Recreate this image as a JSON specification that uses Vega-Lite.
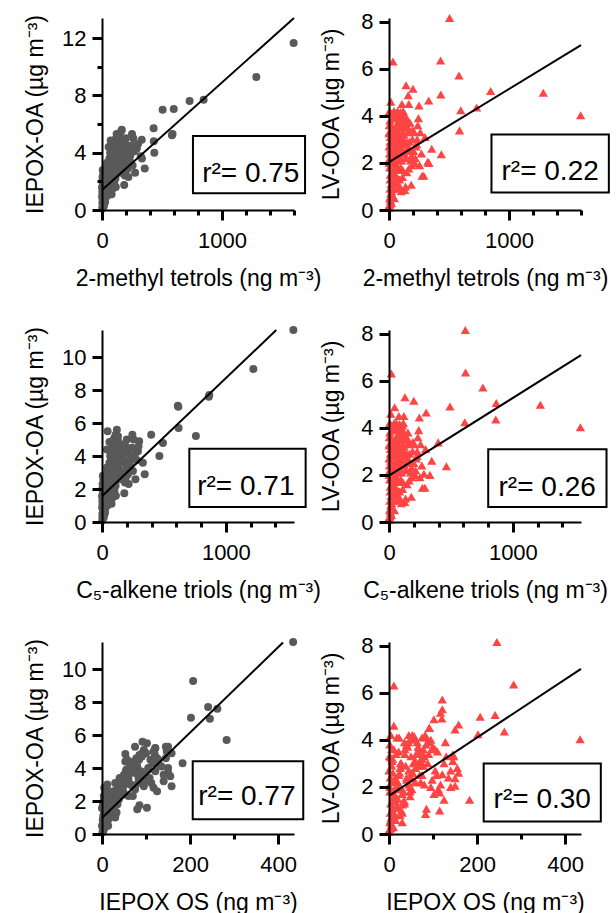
{
  "$schema": "https://vega.github.io/schema/vega-lite/v6.json",
  "padding": {"left": 24, "top": 10, "right": 0, "bottom": 0},
  "background": "white",
  "datasets": {
    "samples": [
      {"tetrol":1597,"triol":1545,"os":434,"iepox_oa":11.65,"lv_ooa":4.02},
      {"tetrol":1286,"triol":1222,"os":207,"iepox_oa":9.28,"lv_ooa":4.98},
      {"tetrol":847,"triol":866,"os":241,"iepox_oa":7.7,"lv_ooa":5.05},
      {"tetrol":730,"triol":862,"os":262,"iepox_oa":7.6,"lv_ooa":4.35},
      {"tetrol":505,"triol":616,"os":245,"iepox_oa":7.0,"lv_ooa":8.15},
      {"tetrol":598,"triol":612,"os":202,"iepox_oa":7.05,"lv_ooa":4.23},
      {"tetrol":583,"triol":758,"os":121,"iepox_oa":5.22,"lv_ooa":5.71},
      {"tetrol":430,"triol":618,"os":283,"iepox_oa":5.7,"lv_ooa":6.35},
      {"tetrol":432,"triol":492,"os":120,"iepox_oa":4.8,"lv_ooa":4.9},
      {"tetrol":436,"triol":463,"os":150,"iepox_oa":4.0,"lv_ooa":2.37},
      {"tetrol":588,"triol":397,"os":145,"iepox_oa":5.3,"lv_ooa":3.38},
      {"tetrol":33,"triol":19,"os":11,"iepox_oa":2.5,"lv_ooa":6.3},
      {"tetrol":2,"triol":2,"os":1,"iepox_oa":0.1,"lv_ooa":0.2},
      {"tetrol":5,"triol":4,"os":2,"iepox_oa":0.3,"lv_ooa":0.5},
      {"tetrol":8,"triol":7,"os":3,"iepox_oa":0.2,"lv_ooa":0.9},
      {"tetrol":3,"triol":3,"os":0,"iepox_oa":0.5,"lv_ooa":0.1},
      {"tetrol":10,"triol":9,"os":4,"iepox_oa":0.6,"lv_ooa":1.3},
      {"tetrol":12,"triol":12,"os":6,"iepox_oa":0.4,"lv_ooa":0.4},
      {"tetrol":6,"triol":6,"os":2,"iepox_oa":0.8,"lv_ooa":1.8},
      {"tetrol":15,"triol":14,"os":5,"iepox_oa":0.9,"lv_ooa":0.7},
      {"tetrol":4,"triol":4,"os":3,"iepox_oa":1.1,"lv_ooa":2.4},
      {"tetrol":18,"triol":17,"os":8,"iepox_oa":0.7,"lv_ooa":1.1},
      {"tetrol":9,"triol":10,"os":6,"iepox_oa":1.3,"lv_ooa":2.9},
      {"tetrol":2,"triol":3,"os":1,"iepox_oa":1.6,"lv_ooa":3.3},
      {"tetrol":20,"triol":19,"os":10,"iepox_oa":1.0,"lv_ooa":0.3},
      {"tetrol":14,"triol":15,"os":9,"iepox_oa":1.5,"lv_ooa":2.6},
      {"tetrol":7,"triol":6,"os":2,"iepox_oa":1.9,"lv_ooa":3.8},
      {"tetrol":25,"triol":24,"os":12,"iepox_oa":1.2,"lv_ooa":1.6},
      {"tetrol":4,"triol":5,"os":4,"iepox_oa":2.3,"lv_ooa":4.2},
      {"tetrol":11,"triol":11,"os":7,"iepox_oa":2.6,"lv_ooa":3.1},
      {"tetrol":22,"triol":21,"os":14,"iepox_oa":0.5,"lv_ooa":0.8},
      {"tetrol":1,"triol":1,"os":0,"iepox_oa":1.57,"lv_ooa":2.7},
      {"tetrol":6,"triol":7,"os":5,"iepox_oa":2.8,"lv_ooa":2.2},
      {"tetrol":30,"triol":28,"os":15,"iepox_oa":0.9,"lv_ooa":0.6},
      {"tetrol":13,"triol":12,"os":18,"iepox_oa":2.0,"lv_ooa":4.1},
      {"tetrol":17,"triol":16,"os":11,"iepox_oa":2.7,"lv_ooa":3.6},
      {"tetrol":28,"triol":27,"os":20,"iepox_oa":1.8,"lv_ooa":2.0},
      {"tetrol":35,"triol":33,"os":18,"iepox_oa":1.4,"lv_ooa":1.2},
      {"tetrol":40,"triol":38,"os":25,"iepox_oa":2.2,"lv_ooa":2.8},
      {"tetrol":45,"triol":44,"os":30,"iepox_oa":1.0,"lv_ooa":0.5},
      {"tetrol":50,"triol":48,"os":22,"iepox_oa":2.5,"lv_ooa":3.5},
      {"tetrol":38,"triol":40,"os":35,"iepox_oa":3.0,"lv_ooa":3.9},
      {"tetrol":55,"triol":53,"os":28,"iepox_oa":1.7,"lv_ooa":1.9},
      {"tetrol":60,"triol":57,"os":40,"iepox_oa":2.9,"lv_ooa":2.4},
      {"tetrol":65,"triol":62,"os":33,"iepox_oa":1.3,"lv_ooa":1.4},
      {"tetrol":42,"triol":41,"os":45,"iepox_oa":3.3,"lv_ooa":4.2},
      {"tetrol":70,"triol":68,"os":38,"iepox_oa":2.1,"lv_ooa":2.9},
      {"tetrol":75,"triol":73,"os":50,"iepox_oa":3.5,"lv_ooa":3.3},
      {"tetrol":80,"triol":77,"os":30,"iepox_oa":1.1,"lv_ooa":0.9},
      {"tetrol":58,"triol":55,"os":24,"iepox_oa":2.4,"lv_ooa":2.6},
      {"tetrol":48,"triol":47,"os":12,"iepox_oa":1.9,"lv_ooa":1.7},
      {"tetrol":85,"triol":82,"os":55,"iepox_oa":3.8,"lv_ooa":4.1},
      {"tetrol":33,"triol":31,"os":26,"iepox_oa":2.6,"lv_ooa":3.0},
      {"tetrol":62,"triol":60,"os":58,"iepox_oa":3.6,"lv_ooa":2.2},
      {"tetrol":72,"triol":70,"os":42,"iepox_oa":2.7,"lv_ooa":3.7},
      {"tetrol":88,"triol":85,"os":35,"iepox_oa":1.8,"lv_ooa":1.3},
      {"tetrol":52,"triol":51,"os":48,"iepox_oa":3.2,"lv_ooa":2.0},
      {"tetrol":68,"triol":66,"os":62,"iepox_oa":4.0,"lv_ooa":3.4},
      {"tetrol":45,"triol":46,"os":20,"iepox_oa":2.0,"lv_ooa":1.5},
      {"tetrol":78,"triol":76,"os":75,"iepox_oa":2.8,"lv_ooa":2.5},
      {"tetrol":90,"triol":88,"os":28,"iepox_oa":1.5,"lv_ooa":1.0},
      {"tetrol":55,"triol":40,"os":53,"iepox_oa":4.4,"lv_ooa":4.0},
      {"tetrol":82,"triol":80,"os":45,"iepox_oa":3.1,"lv_ooa":2.7},
      {"tetrol":36,"triol":35,"os":10,"iepox_oa":1.6,"lv_ooa":0.9},
      {"tetrol":64,"triol":63,"os":70,"iepox_oa":2.3,"lv_ooa":3.1},
      {"tetrol":95,"triol":92,"os":40,"iepox_oa":3.4,"lv_ooa":3.8},
      {"tetrol":58,"triol":56,"os":12,"iepox_oa":3.0,"lv_ooa":2.3},
      {"tetrol":40,"triol":39,"os":8,"iepox_oa":2.5,"lv_ooa":3.2},
      {"tetrol":28,"triol":26,"os":33,"iepox_oa":2.3,"lv_ooa":1.8},
      {"tetrol":86,"triol":84,"os":80,"iepox_oa":1.5,"lv_ooa":2.1},
      {"tetrol":72,"triol":60,"os":53,"iepox_oa":4.85,"lv_ooa":4.2},
      {"tetrol":100,"triol":97,"os":55,"iepox_oa":3.9,"lv_ooa":3.0},
      {"tetrol":110,"triol":95,"os":68,"iepox_oa":4.3,"lv_ooa":3.6},
      {"tetrol":105,"triol":103,"os":45,"iepox_oa":2.6,"lv_ooa":2.1},
      {"tetrol":120,"triol":90,"os":85,"iepox_oa":4.8,"lv_ooa":4.1},
      {"tetrol":130,"triol":126,"os":60,"iepox_oa":3.3,"lv_ooa":2.8},
      {"tetrol":115,"triol":112,"os":102,"iepox_oa":1.6,"lv_ooa":1.7},
      {"tetrol":140,"triol":105,"os":90,"iepox_oa":4.7,"lv_ooa":3.9},
      {"tetrol":125,"triol":122,"os":75,"iepox_oa":3.7,"lv_ooa":3.2},
      {"tetrol":150,"triol":146,"os":70,"iepox_oa":2.9,"lv_ooa":2.5},
      {"tetrol":135,"triol":100,"os":95,"iepox_oa":5.1,"lv_ooa":4.0},
      {"tetrol":160,"triol":45,"os":102,"iepox_oa":5.5,"lv_ooa":4.87},
      {"tetrol":165,"triol":120,"os":92,"iepox_oa":5.6,"lv_ooa":4.5},
      {"tetrol":145,"triol":130,"os":110,"iepox_oa":4.5,"lv_ooa":3.5},
      {"tetrol":170,"triol":166,"os":65,"iepox_oa":3.0,"lv_ooa":2.9},
      {"tetrol":155,"triol":150,"os":80,"iepox_oa":4.1,"lv_ooa":3.3},
      {"tetrol":180,"triol":175,"os":117,"iepox_oa":2.8,"lv_ooa":2.1},
      {"tetrol":175,"triol":130,"os":100,"iepox_oa":4.9,"lv_ooa":3.7},
      {"tetrol":190,"triol":185,"os":52,"iepox_oa":2.4,"lv_ooa":1.9},
      {"tetrol":185,"triol":180,"os":85,"iepox_oa":1.75,"lv_ooa":1.07},
      {"tetrol":142,"triol":129,"os":121,"iepox_oa":5.2,"lv_ooa":5.3},
      {"tetrol":200,"triol":200,"os":117,"iepox_oa":5.0,"lv_ooa":5.15},
      {"tetrol":112,"triol":110,"os":35,"iepox_oa":2.2,"lv_ooa":1.4},
      {"tetrol":128,"triol":125,"os":50,"iepox_oa":3.6,"lv_ooa":2.4},
      {"tetrol":98,"triol":96,"os":78,"iepox_oa":4.2,"lv_ooa":3.6},
      {"tetrol":158,"triol":152,"os":105,"iepox_oa":3.9,"lv_ooa":2.7},
      {"tetrol":118,"triol":116,"os":82,"iepox_oa":3.1,"lv_ooa":4.2},
      {"tetrol":195,"triol":190,"os":125,"iepox_oa":4.6,"lv_ooa":3.0},
      {"tetrol":102,"triol":100,"os":25,"iepox_oa":1.9,"lv_ooa":0.8},
      {"tetrol":148,"triol":145,"os":48,"iepox_oa":2.6,"lv_ooa":1.6},
      {"tetrol":138,"triol":134,"os":115,"iepox_oa":4.3,"lv_ooa":1.0},
      {"tetrol":108,"triol":80,"os":91,"iepox_oa":4.9,"lv_ooa":4.5},
      {"tetrol":96,"triol":85,"os":57,"iepox_oa":4.5,"lv_ooa":4.16},
      {"tetrol":122,"triol":110,"os":75,"iepox_oa":5.3,"lv_ooa":4.1},
      {"tetrol":132,"triol":128,"os":83,"iepox_oa":3.4,"lv_ooa":0.85},
      {"tetrol":178,"triol":172,"os":121,"iepox_oa":3.8,"lv_ooa":2.54},
      {"tetrol":165,"triol":162,"os":115,"iepox_oa":4.4,"lv_ooa":1.76},
      {"tetrol":188,"triol":182,"os":98,"iepox_oa":3.6,"lv_ooa":2.3},
      {"tetrol":210,"triol":205,"os":130,"iepox_oa":4.2,"lv_ooa":3.3},
      {"tetrol":225,"triol":220,"os":140,"iepox_oa":3.2,"lv_ooa":2.7},
      {"tetrol":240,"triol":233,"os":105,"iepox_oa":4.0,"lv_ooa":3.6},
      {"tetrol":230,"triol":226,"os":155,"iepox_oa":3.5,"lv_ooa":2.8},
      {"tetrol":261,"triol":255,"os":147,"iepox_oa":5.0,"lv_ooa":3.3},
      {"tetrol":276,"triol":270,"os":125,"iepox_oa":2.6,"lv_ooa":1.45},
      {"tetrol":250,"triol":245,"os":150,"iepox_oa":5.3,"lv_ooa":4.44},
      {"tetrol":215,"triol":210,"os":95,"iepox_oa":2.9,"lv_ooa":2.0},
      {"tetrol":290,"triol":290,"os":183,"iepox_oa":4.3,"lv_ooa":1.45},
      {"tetrol":323,"triol":282,"os":150,"iepox_oa":3.75,"lv_ooa":2.05},
      {"tetrol":331,"triol":300,"os":158,"iepox_oa":4.9,"lv_ooa":4.65},
      {"tetrol":356,"triol":345,"os":158,"iepox_oa":2.9,"lv_ooa":2.6},
      {"tetrol":333,"triol":330,"os":140,"iepox_oa":3.6,"lv_ooa":2.0},
      {"tetrol":235,"triol":228,"os":88,"iepox_oa":3.8,"lv_ooa":3.0},
      {"tetrol":220,"triol":215,"os":60,"iepox_oa":2.3,"lv_ooa":2.2},
      {"tetrol":255,"triol":250,"os":112,"iepox_oa":3.1,"lv_ooa":1.9},
      {"tetrol":15,"triol":14,"os":11,"iepox_oa":2.1,"lv_ooa":4.6},
      {"tetrol":20,"triol":18,"os":23,"iepox_oa":2.4,"lv_ooa":4.1},
      {"tetrol":3,"triol":2,"os":4,"iepox_oa":2.0,"lv_ooa":3.25},
      {"tetrol":50,"triol":55,"os":30,"iepox_oa":3.1,"lv_ooa":1.25},
      {"tetrol":24,"triol":23,"os":16,"iepox_oa":1.5,"lv_ooa":2.3},
      {"tetrol":32,"triol":30,"os":22,"iepox_oa":2.0,"lv_ooa":2.5},
      {"tetrol":44,"triol":42,"os":28,"iepox_oa":2.4,"lv_ooa":3.0},
      {"tetrol":56,"triol":54,"os":36,"iepox_oa":2.8,"lv_ooa":3.4},
      {"tetrol":66,"triol":64,"os":44,"iepox_oa":3.2,"lv_ooa":3.9},
      {"tetrol":76,"triol":74,"os":52,"iepox_oa":3.6,"lv_ooa":2.6},
      {"tetrol":84,"triol":81,"os":60,"iepox_oa":3.9,"lv_ooa":3.1},
      {"tetrol":92,"triol":90,"os":66,"iepox_oa":4.1,"lv_ooa":3.5},
      {"tetrol":104,"triol":100,"os":72,"iepox_oa":4.4,"lv_ooa":2.9},
      {"tetrol":114,"triol":110,"os":78,"iepox_oa":4.6,"lv_ooa":3.3},
      {"tetrol":19,"triol":18,"os":12,"iepox_oa":1.2,"lv_ooa":1.9},
      {"tetrol":27,"triol":26,"os":16,"iepox_oa":1.6,"lv_ooa":3.4},
      {"tetrol":37,"triol":36,"os":14,"iepox_oa":1.1,"lv_ooa":1.4},
      {"tetrol":47,"triol":45,"os":20,"iepox_oa":1.4,"lv_ooa":2.2},
      {"tetrol":57,"triol":55,"os":26,"iepox_oa":1.8,"lv_ooa":2.8},
      {"tetrol":67,"triol":65,"os":30,"iepox_oa":2.0,"lv_ooa":1.7},
      {"tetrol":77,"triol":75,"os":36,"iepox_oa":2.3,"lv_ooa":3.6},
      {"tetrol":87,"triol":85,"os":40,"iepox_oa":2.5,"lv_ooa":2.3},
      {"tetrol":97,"triol":95,"os":48,"iepox_oa":2.9,"lv_ooa":1.8},
      {"tetrol":107,"triol":105,"os":54,"iepox_oa":3.2,"lv_ooa":2.6},
      {"tetrol":117,"triol":115,"os":60,"iepox_oa":3.5,"lv_ooa":3.0},
      {"tetrol":127,"triol":124,"os":66,"iepox_oa":3.8,"lv_ooa":3.7},
      {"tetrol":137,"triol":133,"os":72,"iepox_oa":4.0,"lv_ooa":2.2},
      {"tetrol":147,"triol":143,"os":78,"iepox_oa":4.2,"lv_ooa":2.9},
      {"tetrol":157,"triol":153,"os":84,"iepox_oa":4.5,"lv_ooa":3.8},
      {"tetrol":167,"triol":163,"os":90,"iepox_oa":4.7,"lv_ooa":3.4},
      {"tetrol":11,"triol":10,"os":9,"iepox_oa":0.9,"lv_ooa":1.5},
      {"tetrol":16,"triol":15,"os":4,"iepox_oa":0.3,"lv_ooa":0.6},
      {"tetrol":26,"triol":25,"os":7,"iepox_oa":0.6,"lv_ooa":1.0},
      {"tetrol":9,"triol":8,"os":5,"iepox_oa":0.35,"lv_ooa":0.25},
      {"tetrol":1,"triol":1,"os":2,"iepox_oa":0.9,"lv_ooa":2.0},
      {"tetrol":3,"triol":3,"os":6,"iepox_oa":1.3,"lv_ooa":3.6},
      {"tetrol":62,"triol":61,"os":18,"iepox_oa":2.2,"lv_ooa":1.1},
      {"tetrol":93,"triol":91,"os":64,"iepox_oa":3.0,"lv_ooa":3.9},
      {"tetrol":145,"triol":140,"os":98,"iepox_oa":3.2,"lv_ooa":3.6},
      {"tetrol":205,"triol":200,"os":108,"iepox_oa":3.4,"lv_ooa":2.5},
      {"tetrol":245,"triol":240,"os":128,"iepox_oa":4.5,"lv_ooa":3.9},
      {"tetrol":270,"triol":265,"os":135,"iepox_oa":4.1,"lv_ooa":2.4},
      {"tetrol":300,"triol":295,"os":145,"iepox_oa":4.6,"lv_ooa":3.1},
      {"tetrol":196,"triol":192,"os":75,"iepox_oa":2.7,"lv_ooa":3.4}
    ]
  },
  "concat": [
    {
      "width": 192, "height": 192,
      "layer": [
        {"data": {"name": "samples"},
         "mark": {"type": "point", "shape": "circle", "filled": true, "size": 64, "color": "#595959", "opacity": 1, "strokeWidth": 0},
         "encoding": {
           "x": {"field": "tetrol", "type": "quantitative", "scale": {"domain": [0, 1600], "nice": false, "zero": false},
                 "axis": {"title": "2-methyl tetrols (ng m⁻³)", "format": "d", "tickCount": 30, "values": [0,200,400,600,800,1000,1200,1400,1600], "labelExpr": "datum.value % 1000 === 0 ? datum.label : ''", "ticks": true, "tickColor": "#000000", "tickWidth": 3, "zindex": 1, "tickSize": {"condition": {"test": "datum.value % 1000 === 0", "value": 10}, "value": 5}}},
           "y": {"field": "iepox_oa", "type": "quantitative", "scale": {"domain": [0, 13.4], "nice": false, "zero": false},
                 "axis": {"title": "IEPOX-OA (µg m⁻³)", "format": "d", "titlePadding": 14, "tickCount": 30, "values": [0,2,4,6,8,10,12], "labelExpr": "datum.value % 4 === 0 ? datum.label : ''", "ticks": true, "tickColor": "#000000", "tickWidth": 3, "zindex": 1, "tickSize": {"condition": {"test": "datum.value % 4 === 0", "value": 10}, "value": 5}}}
         }},
        {"data": {"values": [{"x": 0, "y": 1.4}, {"x": 1600, "y": 13.4}]},
         "mark": {"type": "line", "color": "black", "strokeWidth": 2},
         "encoding": {"x": {"field": "x", "type": "quantitative"}, "y": {"field": "y", "type": "quantitative"}}},
        {"data": {"values": [{"label": "r²= 0.75"}]},
         "mark": {"type": "rect", "fill": "white", "stroke": "black", "strokeWidth": 2},
         "encoding": {"x": {"datum": 758}, "x2": {"datum": 1692}, "y": {"datum": 5.16}, "y2": {"datum": 1.17}}},
        {"data": {"values": [{"label": "r²= 0.75"}]},
         "mark": {"type": "text", "font": "Liberation Sans", "fontSize": 28, "align": "center", "baseline": "alphabetic", "color": "black"},
         "encoding": {"x": {"datum": 1240}, "y": {"datum": 1.975}, "text": {"field": "label"}}}
      ]
    },
    {
      "width": 192, "height": 192,
      "layer": [
        {"data": {"name": "samples"},
         "mark": {"type": "point", "shape": "triangle-up", "filled": true, "size": 86, "color": "#ff4444", "opacity": 1, "strokeWidth": 0},
         "encoding": {
           "x": {"field": "tetrol", "type": "quantitative", "scale": {"domain": [0, 1600], "nice": false, "zero": false},
                 "axis": {"title": "2-methyl tetrols (ng m⁻³)", "format": "d", "tickCount": 30, "values": [0,200,400,600,800,1000,1200,1400,1600], "labelExpr": "datum.value % 1000 === 0 ? datum.label : ''", "ticks": true, "tickColor": "#000000", "tickWidth": 3, "zindex": 1, "tickSize": {"condition": {"test": "datum.value % 1000 === 0", "value": 10}, "value": 5}}},
           "y": {"field": "lv_ooa", "type": "quantitative", "scale": {"domain": [0, 8.15], "nice": false, "zero": false},
                 "axis": {"title": "LV-OOA (µg m⁻³)", "format": "d", "titlePadding": 17, "tickCount": 30, "values": [0,2,4,6,8], "ticks": true, "tickColor": "#000000", "tickWidth": 3, "zindex": 1, "tickSize": 10}}
         }},
        {"data": {"values": [{"x": 0, "y": 2.03}, {"x": 1600, "y": 7.0}]},
         "mark": {"type": "line", "color": "black", "strokeWidth": 2},
         "encoding": {"x": {"field": "x", "type": "quantitative"}, "y": {"field": "y", "type": "quantitative"}}},
        {"data": {"values": [{"label": "r²= 0.22"}]},
         "mark": {"type": "rect", "fill": "white", "stroke": "black", "strokeWidth": 2},
         "encoding": {"x": {"datum": 854}, "x2": {"datum": 1832}, "y": {"datum": 3.2}, "y2": {"datum": 0.74}}},
        {"data": {"values": [{"label": "r²= 0.22"}]},
         "mark": {"type": "text", "font": "Liberation Sans", "fontSize": 28, "align": "center", "baseline": "alphabetic", "color": "black"},
         "encoding": {"x": {"datum": 1343}, "y": {"datum": 1.28}, "text": {"field": "label"}}}
      ]
    },
    {
      "width": 192, "height": 192,
      "layer": [
        {"data": {"name": "samples"},
         "mark": {"type": "point", "shape": "circle", "filled": true, "size": 64, "color": "#595959", "opacity": 1, "strokeWidth": 0},
         "encoding": {
           "x": {"field": "triol", "type": "quantitative", "scale": {"domain": [0, 1550], "nice": false, "zero": false},
                 "axis": {"title": "C₅-alkene triols (ng m⁻³)", "format": "d", "tickCount": 30, "values": [0,200,400,600,800,1000,1200,1400], "labelExpr": "datum.value % 1000 === 0 ? datum.label : ''", "ticks": true, "tickColor": "#000000", "tickWidth": 3, "zindex": 1, "tickSize": {"condition": {"test": "datum.value % 1000 === 0", "value": 10}, "value": 5}}},
           "y": {"field": "iepox_oa", "type": "quantitative", "scale": {"domain": [0, 11.65], "nice": false, "zero": false},
                 "axis": {"title": "IEPOX-OA (µg m⁻³)", "format": "d", "titlePadding": 14, "tickCount": 30, "values": [0,2,4,6,8,10], "ticks": true, "tickColor": "#000000", "tickWidth": 3, "zindex": 1, "tickSize": 10}}
         }},
        {"data": {"values": [{"x": 0, "y": 1.56}, {"x": 1407, "y": 11.65}]},
         "mark": {"type": "line", "color": "black", "strokeWidth": 2},
         "encoding": {"x": {"field": "x", "type": "quantitative"}, "y": {"field": "y", "type": "quantitative"}}},
        {"data": {"values": [{"label": "r²= 0.71"}]},
         "mark": {"type": "rect", "fill": "white", "stroke": "black", "strokeWidth": 2},
         "encoding": {"x": {"datum": 705}, "x2": {"datum": 1644}, "y": {"datum": 4.45}, "y2": {"datum": 0.91}}},
        {"data": {"values": [{"label": "r²= 0.71"}]},
         "mark": {"type": "text", "font": "Liberation Sans", "fontSize": 28, "align": "center", "baseline": "alphabetic", "color": "black"},
         "encoding": {"x": {"datum": 1161}, "y": {"datum": 1.66}, "text": {"field": "label"}}}
      ]
    },
    {
      "width": 192, "height": 192,
      "layer": [
        {"data": {"name": "samples"},
         "mark": {"type": "point", "shape": "triangle-up", "filled": true, "size": 86, "color": "#ff4444", "opacity": 1, "strokeWidth": 0},
         "encoding": {
           "x": {"field": "triol", "type": "quantitative", "scale": {"domain": [0, 1550], "nice": false, "zero": false},
                 "axis": {"title": "C₅-alkene triols (ng m⁻³)", "format": "d", "tickCount": 30, "values": [0,200,400,600,800,1000,1200,1400], "labelExpr": "datum.value % 1000 === 0 ? datum.label : ''", "ticks": true, "tickColor": "#000000", "tickWidth": 3, "zindex": 1, "tickSize": {"condition": {"test": "datum.value % 1000 === 0", "value": 10}, "value": 5}}},
           "y": {"field": "lv_ooa", "type": "quantitative", "scale": {"domain": [0, 8.15], "nice": false, "zero": false},
                 "axis": {"title": "LV-OOA (µg m⁻³)", "format": "d", "titlePadding": 17, "tickCount": 30, "values": [0,2,4,6,8], "ticks": true, "tickColor": "#000000", "tickWidth": 3, "zindex": 1, "tickSize": 10}}
         }},
        {"data": {"values": [{"x": 0, "y": 1.97}, {"x": 1550, "y": 7.08}]},
         "mark": {"type": "line", "color": "black", "strokeWidth": 2},
         "encoding": {"x": {"field": "x", "type": "quantitative"}, "y": {"field": "y", "type": "quantitative"}}},
        {"data": {"values": [{"label": "r²= 0.26"}]},
         "mark": {"type": "rect", "fill": "white", "stroke": "black", "strokeWidth": 2},
         "encoding": {"x": {"datum": 801}, "x2": {"datum": 1756}, "y": {"datum": 3.09}, "y2": {"datum": 0.64}}},
        {"data": {"values": [{"label": "r²= 0.26"}]},
         "mark": {"type": "text", "font": "Liberation Sans", "fontSize": 28, "align": "center", "baseline": "alphabetic", "color": "black"},
         "encoding": {"x": {"datum": 1277}, "y": {"datum": 1.12}, "text": {"field": "label"}}}
      ]
    },
    {
      "width": 192, "height": 192,
      "layer": [
        {"data": {"name": "samples"},
         "mark": {"type": "point", "shape": "circle", "filled": true, "size": 64, "color": "#595959", "opacity": 1, "strokeWidth": 0},
         "encoding": {
           "x": {"field": "os", "type": "quantitative", "scale": {"domain": [0, 436], "nice": false, "zero": false},
                 "axis": {"title": "IEPOX OS (ng m⁻³)", "format": "d", "tickCount": 30, "values": [0,100,200,300,400], "labelExpr": "datum.value % 200 === 0 ? datum.label : ''", "ticks": true, "tickColor": "#000000", "tickWidth": 3, "zindex": 1, "tickSize": {"condition": {"test": "datum.value % 200 === 0", "value": 10}, "value": 5}}},
           "y": {"field": "iepox_oa", "type": "quantitative", "scale": {"domain": [0, 11.65], "nice": false, "zero": false},
                 "axis": {"title": "IEPOX-OA (µg m⁻³)", "format": "d", "titlePadding": 14, "tickCount": 30, "values": [0,2,4,6,8,10], "ticks": true, "tickColor": "#000000", "tickWidth": 3, "zindex": 1, "tickSize": 10}}
         }},
        {"data": {"values": [{"x": 0, "y": 0.97}, {"x": 411, "y": 11.62}]},
         "mark": {"type": "line", "color": "black", "strokeWidth": 2},
         "encoding": {"x": {"field": "x", "type": "quantitative"}, "y": {"field": "y", "type": "quantitative"}}},
        {"data": {"values": [{"label": "r²= 0.77"}]},
         "mark": {"type": "rect", "fill": "white", "stroke": "black", "strokeWidth": 2},
         "encoding": {"x": {"datum": 206}, "x2": {"datum": 457}, "y": {"datum": 4.41}, "y2": {"datum": 0.9}}},
        {"data": {"values": [{"label": "r²= 0.77"}]},
         "mark": {"type": "text", "font": "Liberation Sans", "fontSize": 28, "align": "center", "baseline": "alphabetic", "color": "black"},
         "encoding": {"x": {"datum": 329}, "y": {"datum": 1.73}, "text": {"field": "label"}}}
      ]
    },
    {
      "width": 192, "height": 192,
      "layer": [
        {"data": {"name": "samples"},
         "mark": {"type": "point", "shape": "triangle-up", "filled": true, "size": 86, "color": "#ff4444", "opacity": 1, "strokeWidth": 0},
         "encoding": {
           "x": {"field": "os", "type": "quantitative", "scale": {"domain": [0, 436], "nice": false, "zero": false},
                 "axis": {"title": "IEPOX OS (ng m⁻³)", "format": "d", "tickCount": 30, "values": [0,100,200,300,400], "labelExpr": "datum.value % 200 === 0 ? datum.label : ''", "ticks": true, "tickColor": "#000000", "tickWidth": 3, "zindex": 1, "tickSize": {"condition": {"test": "datum.value % 200 === 0", "value": 10}, "value": 5}}},
           "y": {"field": "lv_ooa", "type": "quantitative", "scale": {"domain": [0, 8.15], "nice": false, "zero": false},
                 "axis": {"title": "LV-OOA (µg m⁻³)", "format": "d", "titlePadding": 17, "tickCount": 30, "values": [0,2,4,6,8], "ticks": true, "tickColor": "#000000", "tickWidth": 3, "zindex": 1, "tickSize": 10}}
         }},
        {"data": {"values": [{"x": 0, "y": 1.62}, {"x": 436, "y": 7.01}]},
         "mark": {"type": "line", "color": "black", "strokeWidth": 2},
         "encoding": {"x": {"field": "x", "type": "quantitative"}, "y": {"field": "y", "type": "quantitative"}}},
        {"data": {"values": [{"label": "r²= 0.30"}]},
         "mark": {"type": "rect", "fill": "white", "stroke": "black", "strokeWidth": 2},
         "encoding": {"x": {"datum": 215}, "x2": {"datum": 481}, "y": {"datum": 2.99}, "y2": {"datum": 0.53}}},
        {"data": {"values": [{"label": "r²= 0.30"}]},
         "mark": {"type": "text", "font": "Liberation Sans", "fontSize": 28, "align": "center", "baseline": "alphabetic", "color": "black"},
         "encoding": {"x": {"datum": 348}, "y": {"datum": 1.1}, "text": {"field": "label"}}}
      ]
    }
  ],
  "columns": 2,
  "spacing": {"row": 120, "column": 95},
  "bounds": "flush",
  "config": {
    "font": "Liberation Sans",
    "view": {"stroke": null},
    "axis": {
      "grid": false,
      "domainColor": "black", "domainWidth": 2,
      "labelFont": "Liberation Sans", "labelFontSize": 22, "labelColor": "black",
      "labelFlush": false, "labelOverlap": false, "labelBound": false,
      "titleFont": "Liberation Sans", "titleFontSize": 23, "titleFontWeight": "normal", "titleColor": "black"
    },
    "axisX": {"labelPadding": 10, "titlePadding": 16},
    "axisY": {"labelPadding": 6}
  }
}
